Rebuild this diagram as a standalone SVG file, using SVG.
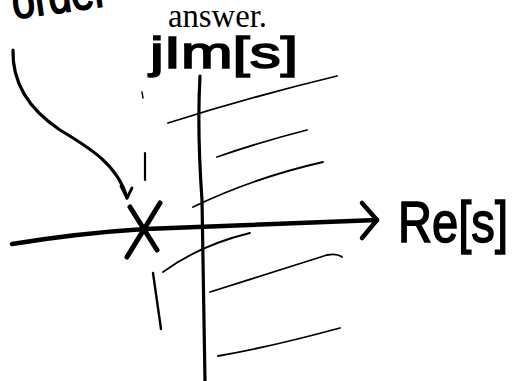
<svg xmlns="http://www.w3.org/2000/svg" width="514" height="381" viewBox="0 0 514 381">
<style>
.ink{fill:none;stroke:#000;stroke-linecap:round;stroke-linejoin:round}
.hatch{fill:none;stroke:#000;stroke-width:1.8;stroke-linecap:round}
.hand{font-family:"Liberation Sans","DejaVu Sans",sans-serif;fill:#000;stroke:#000;stroke-width:1.6}
.print{font-family:"Liberation Serif","DejaVu Serif",serif;fill:#000}
</style>
<rect width="514" height="381" fill="#fff"/>
<g id="connectors">
  <path class="ink" d="M200,76 Q197,130 202,200 L205,381" stroke-width="3.2"/>
  <path class="ink" d="M12,244 Q80,233 145,229 L377,220" stroke-width="4.5"/>
  <path class="ink" d="M362,203 L377,220 L362,238" stroke-width="4.5"/>
  <path class="ink" d="M13,50 C12,85 30,110 60,130 C90,148 118,165 127,198" stroke-width="3.2"/>
  <path class="ink" d="M121,186 L127,198 L132,188" stroke-width="2.8"/>
</g>
<g id="pole">
  <path class="ink" d="M130,207 L157,250" stroke-width="5"/>
  <path class="ink" d="M160,203 L127,257" stroke-width="5"/>
</g>
<g id="ticks">
  <path class="ink" d="M145,153 L145,180" stroke-width="2.2"/>
  <path class="ink" d="M153,273 L161,329" stroke-width="2.4"/>
  <path class="ink" d="M142,92 L143,98" stroke-width="1.5"/>
</g>
<g id="hatching">
  <path class="hatch" d="M168,123 Q250,97 337,76"/>
  <path class="hatch" d="M217,157 Q260,142 307,130"/>
  <path class="hatch" d="M193,207 Q253,178 323,162"/>
  <path class="hatch" d="M163,272 Q200,245 250,233" stroke-width="2.2"/>
  <path class="hatch" d="M210,292 Q270,273 327,255 Q337,253 342,257"/>
  <path class="hatch" d="M218,356 Q270,347 340,328"/>
</g>
<g id="labels">
  <text class="print" x="168" y="27" font-size="33" textLength="99" lengthAdjust="spacingAndGlyphs">answer.</text>
  <text class="hand" x="150" y="68" font-size="44" textLength="148" lengthAdjust="spacingAndGlyphs">jIm[s]</text>
  <text class="hand" x="398" y="242" font-size="58" textLength="110" lengthAdjust="spacingAndGlyphs">Re[s]</text>
  <text class="hand" x="14" y="19" font-size="50" textLength="96" lengthAdjust="spacingAndGlyphs" transform="rotate(-8 14 19)">order</text>
</g>
</svg>
